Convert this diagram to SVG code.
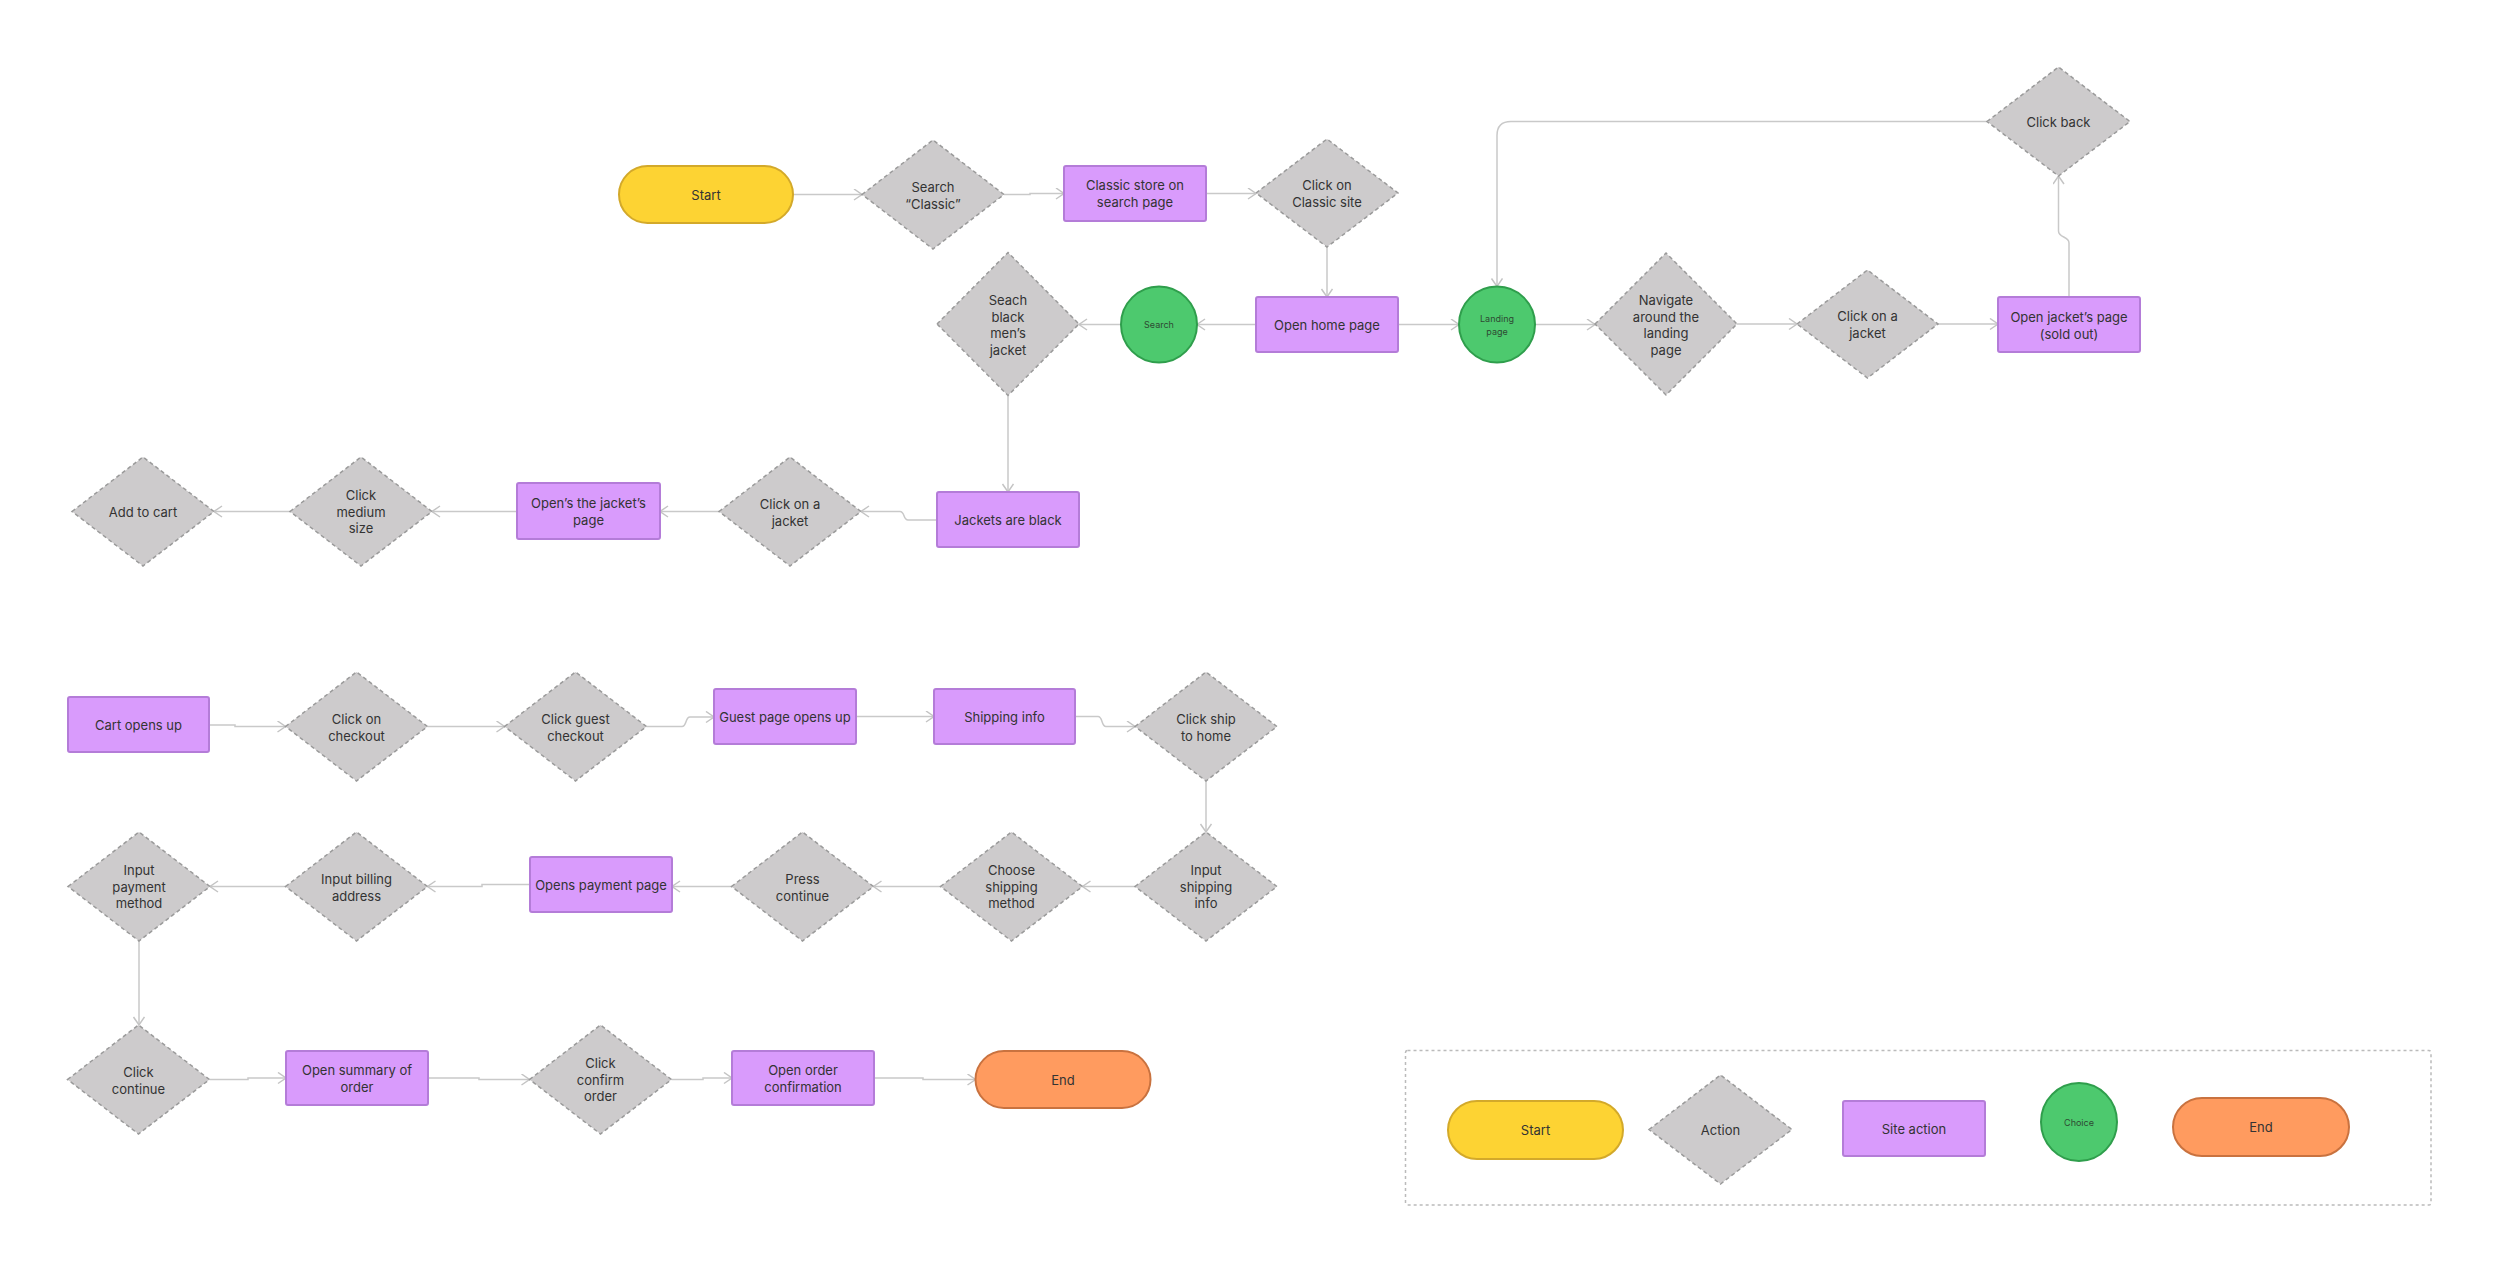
<svg xmlns="http://www.w3.org/2000/svg" width="2500" height="1273" viewBox="0 0 2500 1273">
<defs>
<marker id="arr" markerUnits="userSpaceOnUse" markerWidth="12" markerHeight="14" refX="9" refY="6" orient="auto">
<path d="M1,0.5 L9,6 L1,11.5" fill="none" stroke="#C4C4C4" stroke-width="1.5"/>
</marker>
<style>
.start{fill:#FDD333;stroke:#D3A92A;stroke-width:2}
.dia{fill:#CDCBCC;stroke:#9A9A9A;stroke-width:1.5;stroke-dasharray:4 3}
.site{fill:#D99BFC;stroke:#B47CD8;stroke-width:2}
.choice{fill:#4DC96E;stroke:#2F9E4C;stroke-width:2}
.end{fill:#FF9B5F;stroke:#C9723F;stroke-width:2}
.t{font-family:Inter,"Noto Sans","Liberation Sans",sans-serif;font-size:13px;fill:#333;text-anchor:middle;dominant-baseline:central}
.s{font-size:9px;fill:#2d4a33}
.edge{fill:none;stroke:#C9C9C9;stroke-width:1.5;marker-end:url(#arr)}
.legend{fill:none;stroke:#BBBBBB;stroke-width:1.5;stroke-dasharray:3 3}
</style>
</defs>
<rect width="2500" height="1273" fill="#FFFFFF"/>

<g id="connectors">
<path class="edge" d="M793,194.5 H862"/>
<path class="edge" d="M1004,194.5 H1030 V193.5 H1064"/>
<path class="edge" d="M1206,193.5 H1256"/>
<path class="edge" d="M1327,247 V297"/>
<path class="edge" d="M1256,324.5 H1197"/>
<path class="edge" d="M1121,324.5 H1079"/>
<path class="edge" d="M1398,324.5 H1459"/>
<path class="edge" d="M1535,324.5 H1595"/>
<path class="edge" d="M1737,324 H1797"/>
<path class="edge" d="M1938,324 H1998"/>
<path class="edge" d="M2069,297 V243 C2069,236 2058.5,238 2058.5,231 V176"/>
<path class="edge" d="M1987,121.5 H1511 Q1497,121.5 1497,135.5 V286.5"/>
<path class="edge" d="M1008,395.5 V492"/>
<path class="edge" d="M937,520 H908 C903,520 905,511.5 900,511.5 H861"/>
<path class="edge" d="M719,511.5 H660"/>
<path class="edge" d="M517,511.5 H432"/>
<path class="edge" d="M290,511.5 H214"/>
<path class="edge" d="M209,725 H235 V726.5 H285.5"/>
<path class="edge" d="M427.5,726.5 H504.5"/>
<path class="edge" d="M646.5,726.5 H682 C687,726.5 685,717 690,717 H714"/>
<path class="edge" d="M856,716.5 H934"/>
<path class="edge" d="M1075,716.5 H1098 C1103,716.5 1101,726.5 1106,726.5 H1135"/>
<path class="edge" d="M1206,781 V832"/>
<path class="edge" d="M1135,886.5 H1082.5"/>
<path class="edge" d="M940.5,886.5 H873.5"/>
<path class="edge" d="M731.5,886.5 H672"/>
<path class="edge" d="M530,884.5 H482 V886.5 H427.5"/>
<path class="edge" d="M285.5,886.5 H210"/>
<path class="edge" d="M139,941 V1025"/>
<path class="edge" d="M209.5,1079.5 H248 V1078 H286"/>
<path class="edge" d="M428,1078 H479 V1079.5 H529.5"/>
<path class="edge" d="M671.5,1079.5 H703 V1078 H732"/>
<path class="edge" d="M874,1078 H923 V1079.5 H975.5"/>
</g>

<g id="n-start"><rect class="start" x="619" y="166" width="174" height="57" rx="28.5"/><text class="t" x="706" y="194.5">Start</text></g>
<g id="n-search-classic"><polygon class="dia" points="862,194.5 933,140 1004,194.5 933,249"/><text class="t" x="933" y="186.5">Search</text><text class="t" x="933" y="203.5">“Classic”</text></g>
<g id="n-classic-store"><rect class="site" x="1064" y="166" width="142" height="55" rx="2"/><text class="t" x="1135" y="185">Classic store on</text><text class="t" x="1135" y="202">search page</text></g>
<g id="n-click-classic"><polygon class="dia" points="1256,193 1327,139 1398,193 1327,247"/><text class="t" x="1327" y="185">Click on</text><text class="t" x="1327" y="202">Classic site</text></g>
<g id="n-open-home"><rect class="site" x="1256" y="297" width="142" height="55" rx="2"/><text class="t" x="1327" y="324.5">Open home page</text></g>
<g id="n-search-choice"><circle class="choice" cx="1159" cy="324.5" r="38"/><text class="t s" x="1159" y="324.5">Search</text></g>
<g id="n-seach-black"><polygon class="dia" points="937,324 1008,252.5 1079,324 1008,395.5"/><text class="t" x="1008" y="300">Seach</text><text class="t" x="1008" y="316.7">black</text><text class="t" x="1008" y="333.3">men’s</text><text class="t" x="1008" y="350">jacket</text></g>
<g id="n-landing"><circle class="choice" cx="1497" cy="324.5" r="38"/><text class="t s" x="1497" y="318.3">Landing</text><text class="t s" x="1497" y="331.7">page</text></g>
<g id="n-navigate"><polygon class="dia" points="1595,324 1666,253 1737,324 1666,395"/><text class="t" x="1666" y="300">Navigate</text><text class="t" x="1666" y="316.7">around the</text><text class="t" x="1666" y="333.3">landing</text><text class="t" x="1666" y="350">page</text></g>
<g id="n-click-jacket-1"><polygon class="dia" points="1797,324 1867.5,270 1938,324 1867.5,378"/><text class="t" x="1867.5" y="316">Click on a</text><text class="t" x="1867.5" y="333">jacket</text></g>
<g id="n-open-jacket-sold"><rect class="site" x="1998" y="297" width="142" height="55" rx="2"/><text class="t" x="2069" y="316.5">Open jacket’s page</text><text class="t" x="2069" y="333.5">(sold out)</text></g>
<g id="n-click-back"><polygon class="dia" points="1987,121.5 2058.5,67 2130,121.5 2058.5,176"/><text class="t" x="2058.5" y="121.5">Click back</text></g>

<g id="n-jackets-black"><rect class="site" x="937" y="492" width="142" height="55" rx="2"/><text class="t" x="1008" y="519.5">Jackets are black</text></g>
<g id="n-click-jacket-2"><polygon class="dia" points="719,511.5 790,457 861,511.5 790,566"/><text class="t" x="790" y="503.5">Click on a</text><text class="t" x="790" y="520.5">jacket</text></g>
<g id="n-opens-jacket"><rect class="site" x="517" y="483" width="143" height="56" rx="2"/><text class="t" x="588.5" y="503">Open’s the jacket’s</text><text class="t" x="588.5" y="520">page</text></g>
<g id="n-click-medium"><polygon class="dia" points="290,511.5 361,457 432,511.5 361,566"/><text class="t" x="361" y="495">Click</text><text class="t" x="361" y="511.5">medium</text><text class="t" x="361" y="528">size</text></g>
<g id="n-add-cart"><polygon class="dia" points="72,511.5 143,457 214,511.5 143,566"/><text class="t" x="143" y="511.5">Add to cart</text></g>

<g id="n-cart-opens"><rect class="site" x="68" y="697" width="141" height="55" rx="2"/><text class="t" x="138.5" y="725">Cart opens up</text></g>
<g id="n-click-checkout"><polygon class="dia" points="285.5,726.5 356.5,672 427.5,726.5 356.5,781"/><text class="t" x="356.5" y="718.5">Click on</text><text class="t" x="356.5" y="735.5">checkout</text></g>
<g id="n-click-guest"><polygon class="dia" points="504.5,726.5 575.5,672 646.5,726.5 575.5,781"/><text class="t" x="575.5" y="718.5">Click guest</text><text class="t" x="575.5" y="735.5">checkout</text></g>
<g id="n-guest-page"><rect class="site" x="714" y="689" width="142" height="55" rx="2"/><text class="t" x="785" y="717">Guest page opens up</text></g>
<g id="n-shipping-info"><rect class="site" x="934" y="689" width="141" height="55" rx="2"/><text class="t" x="1004.5" y="717">Shipping info</text></g>
<g id="n-click-ship"><polygon class="dia" points="1135,726.5 1206,672 1277,726.5 1206,781"/><text class="t" x="1206" y="718.5">Click ship</text><text class="t" x="1206" y="735.5">to home</text></g>

<g id="n-input-shipping"><polygon class="dia" points="1135,886.5 1206,832 1277,886.5 1206,941"/><text class="t" x="1206" y="870">Input</text><text class="t" x="1206" y="886.5">shipping</text><text class="t" x="1206" y="903">info</text></g>
<g id="n-choose-shipping"><polygon class="dia" points="940.5,886.5 1011.5,832 1082.5,886.5 1011.5,941"/><text class="t" x="1011.5" y="870">Choose</text><text class="t" x="1011.5" y="886.5">shipping</text><text class="t" x="1011.5" y="903">method</text></g>
<g id="n-press-continue"><polygon class="dia" points="731.5,886.5 802.5,832 873.5,886.5 802.5,941"/><text class="t" x="802.5" y="878.5">Press</text><text class="t" x="802.5" y="895.5">continue</text></g>
<g id="n-opens-payment"><rect class="site" x="530" y="857" width="142" height="55" rx="2"/><text class="t" x="601" y="885">Opens payment page</text></g>
<g id="n-input-billing"><polygon class="dia" points="285.5,886.5 356.5,832 427.5,886.5 356.5,941"/><text class="t" x="356.5" y="878.5">Input billing</text><text class="t" x="356.5" y="895.5">address</text></g>
<g id="n-input-payment"><polygon class="dia" points="68,886.5 139,832 210,886.5 139,941"/><text class="t" x="139" y="870">Input</text><text class="t" x="139" y="886.5">payment</text><text class="t" x="139" y="903">method</text></g>

<g id="n-click-continue"><polygon class="dia" points="67.5,1079.5 138.5,1025 209.5,1079.5 138.5,1134"/><text class="t" x="138.5" y="1071.5">Click</text><text class="t" x="138.5" y="1088.5">continue</text></g>
<g id="n-open-summary"><rect class="site" x="286" y="1051" width="142" height="54" rx="2"/><text class="t" x="357" y="1070">Open summary of</text><text class="t" x="357" y="1087">order</text></g>
<g id="n-click-confirm"><polygon class="dia" points="529.5,1079.5 600.5,1025 671.5,1079.5 600.5,1134"/><text class="t" x="600.5" y="1063">Click</text><text class="t" x="600.5" y="1079.5">confirm</text><text class="t" x="600.5" y="1096">order</text></g>
<g id="n-open-order-conf"><rect class="site" x="732" y="1051" width="142" height="54" rx="2"/><text class="t" x="803" y="1070">Open order</text><text class="t" x="803" y="1087">confirmation</text></g>
<g id="n-end"><rect class="end" x="975.5" y="1051" width="175" height="57" rx="28.5"/><text class="t" x="1063" y="1079.5">End</text></g>

<g id="legend">
<rect class="legend" x="1405.5" y="1050.5" width="1025.5" height="154.5" rx="2"/>
<g id="legend-start"><rect class="start" x="1448" y="1101" width="175" height="58" rx="29"/><text class="t" x="1535.5" y="1130">Start</text></g>
<g id="legend-action"><polygon class="dia" points="1649,1129.5 1720.5,1075 1792,1129.5 1720.5,1184"/><text class="t" x="1720.5" y="1130">Action</text></g>
<g id="legend-site"><rect class="site" x="1843" y="1101" width="142" height="55" rx="2"/><text class="t" x="1914" y="1128.5">Site action</text></g>
<g id="legend-choice"><ellipse class="choice" cx="2079" cy="1122" rx="38" ry="39"/><text class="t s" x="2079" y="1122">Choice</text></g>
<g id="legend-end"><rect class="end" x="2173" y="1098" width="176" height="58" rx="29"/><text class="t" x="2261" y="1127">End</text></g>
</g>
</svg>
